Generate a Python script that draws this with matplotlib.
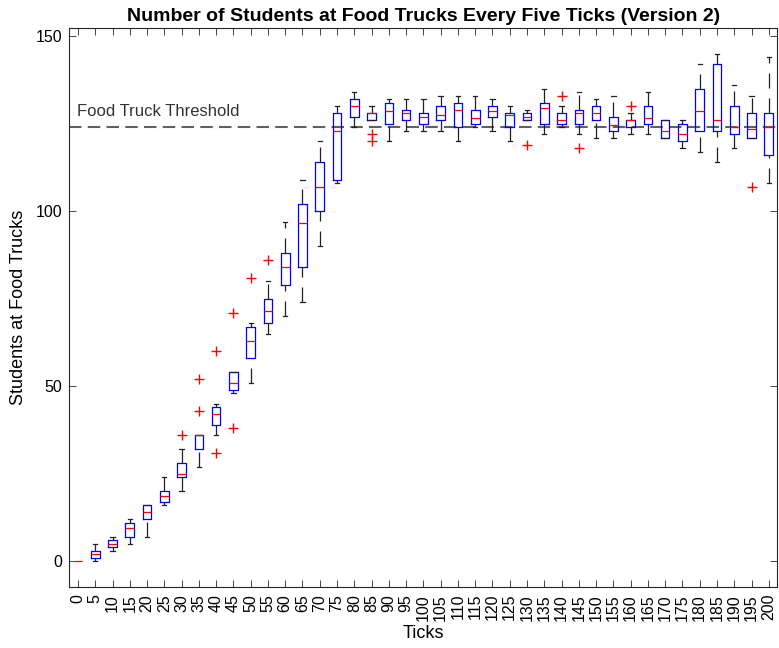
import matplotlib
matplotlib.use("Agg")
import matplotlib.pyplot as plt

plt.rcParams['font.family'] = ['Liberation Sans', 'DejaVu Sans']

ticks = list(range(0, 201, 5))
q1 = [0, 1, 4, 7, 12, 17, 24, 32, 39, 49, 58, 68, 79, 84, 100, 109, 127, 126, 125, 126, 125,
      126, 124, 125, 127, 124, 126, 125, 125, 125, 126, 123, 124, 125, 121, 120, 123, 123, 122, 121, 116]
med = [0, 2, 5, 9.5, 14, 18.5, 25, 36, 42, 51, 63, 71.5, 84, 96.5, 107, 123, 130, 128, 128.5, 128, 127,
       127.5, 129, 126.5, 128.5, 127.5, 127, 129.5, 126, 128, 128, 124.5, 126, 126.5, 123, 122, 128.5, 126, 124, 123.5, 124]
q3 = [0, 3, 6, 11, 16, 20, 28, 36, 44, 54, 67, 75, 88, 102, 114, 128, 132, 128, 131, 129, 128,
      130, 131, 129, 130, 128, 128, 131, 128, 129, 130, 127, 126, 130, 126, 125, 135, 142, 130, 128, 128]
whislo = [0, 0, 3, 5, 7, 16, 20, 27, 36, 48, 51, 65, 70, 74, 90, 108, 124, 126, 120, 123, 123,
          123, 120, 124, 123, 120, 126, 122, 124, 122, 121, 121, 122, 122, 121, 118, 117, 114, 118, 121, 108]
whishi = [0, 5, 7, 12, 16, 24, 32, 36, 45, 54, 68, 80, 97, 109, 120, 130, 134, 130, 132, 132, 132,
          133, 133, 133, 132, 130, 129, 135, 130, 134, 132, 133, 128, 134, 126, 126, 142, 145, 136, 133, 144]
outliers = {30: [36], 35: [43, 52], 40: [31, 60], 45: [38, 71], 50: [81], 55: [86],
            85: [120, 122], 130: [119], 140: [133], 145: [118], 160: [130], 195: [107]}
threshold = 124

stats = []
for i, t in enumerate(ticks):
    stats.append(dict(label=str(t), q1=q1[i], med=med[i], q3=q3[i],
                      whislo=whislo[i], whishi=whishi[i], fliers=outliers.get(t, [])))

fig = plt.figure(figsize=(7.79, 6.48), dpi=100)
ax = fig.add_axes([0.089, 0.0941, 0.909, 0.8622])

ax.axhline(threshold, color='#606060', lw=1.5, ls=(0, (6, 3)), zorder=1)
ax.text(0.96, 126.4, 'Food Truck Threshold', fontsize=12, color='#333333',
        ha='left', va='bottom')

positions = list(range(1, len(ticks) + 1))

# whiskers drawn from low to high, MATLAB style dashed
wls = (0, (12, 8))
for i, p in enumerate(positions):
    if q1[i] > whislo[i]:
        ax.plot([p, p], [whislo[i], q1[i]], color='#222222', lw=0.9, ls=wls, zorder=2)
    if whishi[i] > q3[i]:
        ax.plot([p, p], [q3[i], whishi[i]], color='#222222', lw=0.9, ls=wls, zorder=2)

box_colors = ['#0000ff' if q3[i] > q1[i] else 'none' for i in range(len(ticks))]
art = ax.bxp(stats, positions=positions, widths=0.5, showfliers=True,
             boxprops=dict(color='#0000ff', lw=0.9),
             medianprops=dict(color='#ff0000', lw=0.9, zorder=4),
             whiskerprops=dict(linestyle='none'),
             capprops=dict(color='#222222', lw=0.9),
             flierprops=dict(marker='+', markeredgecolor='#ff0000', markersize=7.5,
                             markeredgewidth=1.0, linestyle='none'),
             manage_ticks=False, zorder=3)
for b, c in zip(art['boxes'], box_colors):
    b.set_color(c)
for i, cap in enumerate(art['caps']):
    j = i // 2
    if whishi[j] == whislo[j]:
        cap.set_visible(False)

ax.set_xlim(0.5, len(ticks) + 0.5)
ax.set_ylim(-7.4, 152.2)
ax.set_xticks(positions)
ax.set_xticklabels([str(t) for t in ticks], rotation=90, fontsize=11.5)
ax.set_yticks([0, 50, 100, 150])
ax.tick_params(axis='y', labelsize=11.5, pad=5)
ax.tick_params(axis='x', pad=5)
ax.tick_params(direction='in', top=True, right=True, length=5, width=0.6, color='#262626')
for s in ax.spines.values():
    s.set_linewidth(0.8)
    s.set_color('#262626')

ax.set_title('Number of Students at Food Trucks Every Five Ticks (Version 2)',
             fontsize=14, fontweight='bold', pad=5)
ax.set_xlabel('Ticks', fontsize=13, labelpad=3)
ax.set_ylabel('Students at Food Trucks', fontsize=13, labelpad=6)

fig.savefig('out.png', dpi=100)
